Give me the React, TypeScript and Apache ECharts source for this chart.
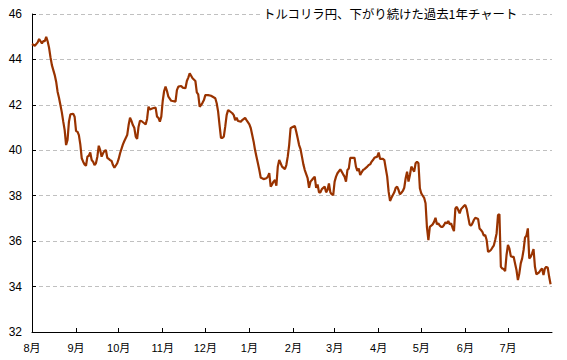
import React, { useEffect, useRef } from "react";
import * as echarts from "echarts";

const titleText = "トルコリラ円、下がり続けた過去1年チャート";

const dates = [
  "2015-08-01","2015-08-03","2015-08-05","2015-08-06","2015-08-08","2015-08-09","2015-08-10","2015-08-11","2015-08-12","2015-08-13",
  "2015-08-14","2015-08-15","2015-08-16","2015-08-17","2015-08-18","2015-08-19","2015-08-20","2015-08-21","2015-08-22","2015-08-23",
  "2015-08-24","2015-08-25","2015-08-26","2015-08-27","2015-08-28","2015-08-30","2015-08-31",
  "2015-09-01","2015-09-02","2015-09-03","2015-09-04","2015-09-05","2015-09-06","2015-09-07","2015-09-08","2015-09-09","2015-09-10",
  "2015-09-11","2015-09-12","2015-09-13","2015-09-14","2015-09-15","2015-09-16","2015-09-17","2015-09-18","2015-09-19","2015-09-20",
  "2015-09-21","2015-09-22","2015-09-23","2015-09-24","2015-09-25","2015-09-26","2015-09-27","2015-09-28","2015-09-30",
  "2015-10-01","2015-10-02","2015-10-04","2015-10-05","2015-10-07","2015-10-08","2015-10-09","2015-10-10","2015-10-11","2015-10-12",
  "2015-10-13","2015-10-14","2015-10-15","2015-10-16","2015-10-17","2015-10-19","2015-10-20","2015-10-21","2015-10-22","2015-10-23",
  "2015-10-25","2015-10-27","2015-10-28","2015-10-29","2015-10-30","2015-10-31",
  "2015-11-01","2015-11-02","2015-11-03","2015-11-04","2015-11-05","2015-11-07","2015-11-08","2015-11-10","2015-11-11","2015-11-12",
  "2015-11-14","2015-11-15","2015-11-17","2015-11-18","2015-11-19","2015-11-20","2015-11-21","2015-11-22","2015-11-24","2015-11-25",
  "2015-11-26","2015-11-27","2015-11-28","2015-11-29","2015-11-30",
  "2015-12-01","2015-12-03","2015-12-05","2015-12-08","2015-12-09","2015-12-10","2015-12-11","2015-12-12","2015-12-13","2015-12-14",
  "2015-12-15","2015-12-16","2015-12-17","2015-12-18","2015-12-20","2015-12-21","2015-12-22","2015-12-23","2015-12-24","2015-12-26",
  "2015-12-27","2015-12-29","2015-12-30",
  "2016-01-01","2016-01-02","2016-01-03","2016-01-04","2016-01-05","2016-01-06","2016-01-07","2016-01-08","2016-01-09","2016-01-10",
  "2016-01-11","2016-01-13","2016-01-14","2016-01-15","2016-01-16","2016-01-17","2016-01-18","2016-01-19","2016-01-20","2016-01-21",
  "2016-01-22","2016-01-23","2016-01-24","2016-01-26","2016-01-27","2016-01-28","2016-01-29","2016-01-30","2016-01-31",
  "2016-02-02","2016-02-03","2016-02-04","2016-02-05","2016-02-06","2016-02-07","2016-02-08","2016-02-09","2016-02-11","2016-02-12",
  "2016-02-13","2016-02-14","2016-02-15","2016-02-16","2016-02-17","2016-02-18","2016-02-19","2016-02-20","2016-02-21","2016-02-23",
  "2016-02-24","2016-02-25","2016-02-26","2016-02-27","2016-02-28","2016-02-29",
  "2016-03-01","2016-03-02","2016-03-03","2016-03-05","2016-03-06","2016-03-07","2016-03-08","2016-03-09","2016-03-10","2016-03-11",
  "2016-03-12","2016-03-13","2016-03-15","2016-03-16","2016-03-17","2016-03-18","2016-03-19","2016-03-20","2016-03-21","2016-03-22",
  "2016-03-24","2016-03-25","2016-03-26","2016-03-27","2016-03-28","2016-03-29","2016-03-31",
  "2016-04-01","2016-04-02","2016-04-03","2016-04-04","2016-04-05","2016-04-06","2016-04-07","2016-04-08","2016-04-09","2016-04-10",
  "2016-04-11","2016-04-12","2016-04-13","2016-04-14","2016-04-15","2016-04-16","2016-04-17","2016-04-18","2016-04-19","2016-04-20",
  "2016-04-21","2016-04-22","2016-04-23","2016-04-24","2016-04-25","2016-04-26","2016-04-27","2016-04-28","2016-04-29","2016-04-30",
  "2016-05-01","2016-05-02","2016-05-03","2016-05-04","2016-05-05","2016-05-06","2016-05-07","2016-05-08","2016-05-09","2016-05-10",
  "2016-05-11","2016-05-12","2016-05-13","2016-05-14","2016-05-15","2016-05-16","2016-05-17","2016-05-18","2016-05-19","2016-05-20",
  "2016-05-21","2016-05-22","2016-05-23","2016-05-24","2016-05-25","2016-05-26","2016-05-27","2016-05-28","2016-05-29","2016-05-31",
  "2016-06-01","2016-06-02","2016-06-03","2016-06-04","2016-06-05","2016-06-06","2016-06-07","2016-06-08","2016-06-10","2016-06-11",
  "2016-06-12","2016-06-13","2016-06-14","2016-06-15","2016-06-16","2016-06-17","2016-06-18","2016-06-19","2016-06-20","2016-06-21",
  "2016-06-22","2016-06-23","2016-06-24","2016-06-25","2016-06-26","2016-06-27","2016-06-28","2016-06-29","2016-06-30",
  "2016-07-01","2016-07-02","2016-07-03","2016-07-04","2016-07-05","2016-07-06","2016-07-07","2016-07-08","2016-07-09","2016-07-10",
  "2016-07-11","2016-07-12","2016-07-13","2016-07-14","2016-07-15","2016-07-16","2016-07-17","2016-07-18","2016-07-19","2016-07-20",
  "2016-07-21","2016-07-23","2016-07-24","2016-07-25","2016-07-26","2016-07-27","2016-07-28","2016-07-29","2016-07-30","2016-07-31"
];

const values = [
  44.68,44.60,44.75,44.90,44.71,44.81,44.81,44.99,44.80,44.52,
  44.10,43.75,43.53,43.31,43.02,42.58,42.31,41.99,41.67,41.26,
  40.89,40.23,40.45,41.26,41.58,41.61,41.48,
  40.85,40.82,40.67,40.26,39.65,39.50,39.38,39.32,39.72,39.76,
  39.90,39.57,39.50,39.35,39.43,39.72,40.20,40.01,39.72,39.87,
  39.97,40.01,39.67,39.62,39.57,39.53,39.35,39.23,39.43,
  39.62,39.87,40.26,40.41,40.67,41.11,41.43,41.29,41.11,40.99,
  40.60,40.50,41.04,41.30,41.29,41.19,41.14,41.38,41.92,41.80,
  41.85,41.88,41.48,41.43,41.26,41.48,
  42.17,42.61,42.80,42.61,42.36,42.18,42.17,42.14,42.65,42.80,
  42.83,42.76,42.73,43.05,43.20,43.39,43.28,43.17,43.05,42.55,
  42.46,41.92,41.99,42.09,42.21,
  42.43,42.43,42.40,42.29,42.07,41.70,41.11,40.55,40.55,40.60,
  41.04,41.55,41.77,41.73,41.63,41.55,41.33,41.43,41.29,41.26,
  41.33,41.43,41.33,
  41.14,40.97,40.67,40.38,40.01,39.72,39.43,39.13,38.79,38.77,
  38.73,38.77,38.84,38.99,38.40,38.50,38.62,38.69,38.44,39.28,
  39.57,39.43,39.28,39.17,39.35,39.72,40.23,40.97,41.01,
  41.07,40.82,40.53,40.23,40.05,39.72,39.38,39.13,38.77,38.35,
  38.62,38.69,38.77,38.84,38.35,38.50,38.15,38.15,38.29,38.40,
  38.15,38.25,38.54,38.15,38.06,38.03,
  38.62,38.84,38.99,39.16,39.06,38.94,38.84,38.62,39.13,39.20,
  39.67,39.67,39.67,39.28,39.09,39.20,38.91,39.03,39.13,39.17,
  39.28,39.35,39.38,39.50,39.57,39.67,39.72,
  39.90,39.62,39.62,39.62,39.57,39.20,38.84,38.18,37.77,37.91,
  38.03,38.15,38.35,38.40,38.25,38.06,38.13,38.21,38.35,38.77,
  39.06,38.62,38.91,39.28,39.17,39.06,39.43,39.50,39.43,38.33,
  38.10,38.00,37.91,37.67,36.59,36.05,36.63,36.68,36.74,36.85,
  37.03,36.74,36.78,36.68,36.63,36.63,36.71,36.83,36.78,36.89,
  36.74,36.78,36.59,36.44,37.44,37.51,37.37,37.22,37.41,37.55,
  37.59,37.41,37.07,36.74,36.68,36.78,36.93,37.03,36.97,36.56,
  36.49,36.41,36.24,36.27,36.05,35.53,35.56,35.61,35.71,35.80,
  36.05,36.34,37.15,37.18,34.87,34.80,34.77,34.68,35.39,
  35.83,35.68,35.34,35.31,35.31,35.02,34.73,34.29,34.58,35.02,
  35.24,35.61,36.15,36.24,36.56,35.24,35.31,35.46,35.65,34.87,
  34.54,34.63,34.73,34.80,34.51,34.80,34.87,34.83,34.43,34.10
];

const monthTicks = [
  "2015-08-01","2015-09-01","2015-10-01","2015-11-01","2015-12-01","2016-01-01",
  "2016-02-01","2016-03-01","2016-04-01","2016-05-01","2016-06-01","2016-07-01"
];
const monthLabels = ["8月","9月","10月","11月","12月","1月","2月","3月","4月","5月","6月","7月"];

const axisStart = "2015-08-01";
const axisEnd = "2016-08-01";
const yMin = 32;
const yMax = 46;
const yStep = 2;

function toTs(s: string): number {
  const [y, m, d] = s.split("-").map(Number);
  return new Date(y, m - 1, d).getTime();
}

export default function App() {
  const ref = useRef<HTMLDivElement>(null);
  useEffect(() => {
    if (!ref.current) return;
    const chart = echarts.init(ref.current, null, { renderer: "svg" });
    const tickTs = monthTicks.map(toTs);
    const font = "'Liberation Sans', 'Noto Sans CJK JP', sans-serif";
    chart.setOption({
      animation: false,
      backgroundColor: "#ffffff",
      title: {
        text: titleText,
        left: 261,
        top: 8,
        padding: [0, 2],
        backgroundColor: "#ffffff",
        textStyle: {
          fontSize: 12.4,
          fontWeight: "normal",
          color: "#000000",
          fontFamily: "'Noto Sans CJK JP', sans-serif",
        },
      },
      grid: { left: 32, right: 15, top: 14, bottom: 28, containLabel: false },
      xAxis: {
        type: "value",
        min: toTs(axisStart),
        max: toTs(axisEnd),
        axisLine: { show: true, onZero: false, lineStyle: { color: "#000000", width: 1 } },
        axisTick: {
          show: true,
          inside: true,
          length: 4,
          customValues: tickTs,
          lineStyle: { color: "#000000" },
        },
        axisLabel: {
          customValues: tickTs,
          showMinLabel: true,
          showMaxLabel: true,
          hideOverlap: false,
          formatter: (v: number) => {
            const i = tickTs.indexOf(v);
            return i >= 0 ? monthLabels[i] : "";
          },
          fontSize: 11,
          margin: 10,
          color: "#000000",
          fontFamily: font,
        },
        splitLine: { show: false },
      },
      yAxis: {
        type: "value",
        min: yMin,
        max: yMax,
        interval: yStep,
        axisLine: { show: true, lineStyle: { color: "#000000", width: 1 } },
        axisTick: { show: true, inside: true, length: 4, lineStyle: { color: "#000000" } },
        axisLabel: { fontSize: 12, margin: 10, color: "#000000", fontFamily: font },
        splitLine: { show: true, lineStyle: { color: "#c0c0c0", type: [4, 3], width: 1 } },
      },
      series: [
        {
          type: "line",
          data: dates.map((d, i) => [toTs(d), values[i]]),
          showSymbol: false,
          symbol: "none",
          lineStyle: { color: "#993300", width: 2.2 },
          itemStyle: { color: "#993300" },
        },
      ],
    });
    return () => chart.dispose();
  }, []);
  return (
    <div
      ref={ref}
      style={{ position: "fixed", left: 0, top: 0, width: 567, height: 360, background: "#fff" }}
    />
  );
}
